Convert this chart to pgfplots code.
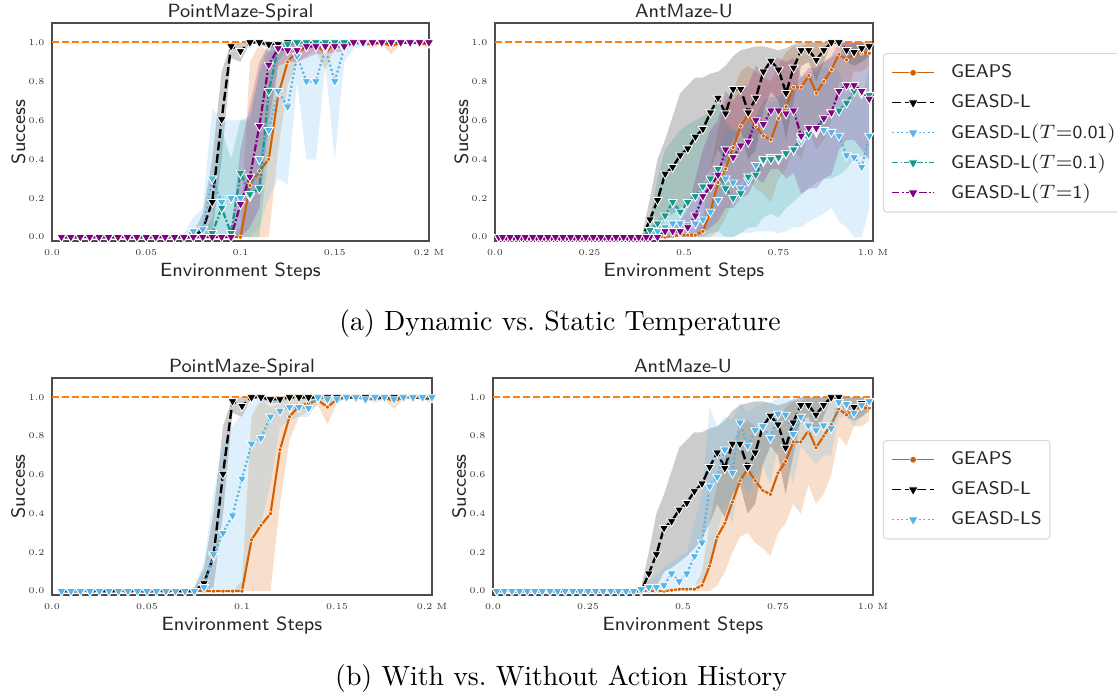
\documentclass[border=0pt]{standalone}
\usepackage{fontspec}
\usepackage{pgfplots}
\usepackage{pgfplotstable}
\pgfplotsset{compat=1.18}
\usepgfplotslibrary{fillbetween}

\definecolor{cGEAPS}{RGB}{213,94,0}
\definecolor{cHline}{RGB}{255,127,14}
\definecolor{cBlue}{RGB}{86,180,233}
\definecolor{cTeal}{RGB}{22,153,140}
\definecolor{cPurple}{RGB}{128,0,128}

% a = GEAPS, b = GEASD-L, c = T=0.01, d = T=0.1, e = T=1, s = GEASD-LS
\pgfplotstableread{
x a alo ahi b blo bhi c clo chi d dlo dhi e elo ehi s slo shi
0.005 0 0 0 0 0 0 0 0 0 0 0 0 0 0 0 0 0 0
0.01 0 0 0 0 0 0 0 0 0 0 0 0 0 0 0 0 0 0
0.015 0 0 0 0 0 0 0 0 0 0 0 0 0 0 0 0 0 0
0.02 0 0 0 0 0 0 0 0 0 0 0 0 0 0 0 0 0 0
0.025 0 0 0 0 0 0 0 0 0 0 0 0 0 0 0 0 0 0
0.03 0 0 0 0 0 0 0 0 0 0 0 0 0 0 0 0 0 0
0.035 0 0 0 0 0 0 0 0 0 0 0 0 0 0 0 0 0 0
0.04 0 0 0 0 0 0 0 0 0 0 0 0 0 0 0 0 0 0
0.045 0 0 0 0 0 0 0 0 0 0 0 0 0 0 0 0 0 0
0.05 0 0 0 0 0 0 0 0 0 0 0 0 0 0 0 0 0 0
0.055 0 0 0 0 0 0 0 0 0 0 0 0 0 0 0 0 0 0
0.06 0 0 0 0 0 0 0 0 0 0 0 0 0 0 0 0 0 0
0.065 0 0 0 0 0 0 0 0 0 0 0 0 0 0 0 0 0 0
0.07 0 0 0 0 0 0 0 0 0.02 0 0 0 0 0 0 0 0 0
0.075 0 0 0 0 0 0.02 0.03 0 0.10 0 0 0 0 0 0 0 0 0.02
0.08 0 0 0 0.04 0 0.12 0.04 0 0.15 0 0 0.02 0 0 0 0.02 0 0.15
0.085 0 0 0 0.18 0.02 0.40 0.30 0 0.66 0.02 0 0.10 0 0 0 0.19 0 0.50
0.09 0 0 0 0.605 0.40 0.85 0.18 0 0.60 0.15 0 0.55 0 0 0 0.30 0 0.75
0.095 0 0 0 0.98 0.92 1.0 0.20 0 0.60 0.02 0 0.40 0 0 0.02 0.39 0 0.85
0.1 0 0 0.05 0.955 0.90 1.0 0.20 0 0.60 0.33 0 0.60 0.17 0 0.45 0.58 0 0.92
0.105 0.265 0 0.90 1.0 1.0 1.0 0.21 0 0.60 0.22 0 0.62 0.31 0.05 0.68 0.76 0.30 0.98
0.11 0.34 0 0.99 1.0 0.99 1.0 0.40 0.05 0.85 0.25 0 0.85 0.57 0.15 0.90 0.79 0.35 1.0
0.115 0.40 0 0.95 0.99 0.97 1.0 0.55 0.20 0.95 0.75 0.45 1.0 0.885 0.60 0.99 0.90 0.55 1.0
0.12 0.73 0.45 0.97 0.99 0.97 1.0 0.75 0.30 1.0 0.97 0.90 1.0 0.97 0.88 1.0 0.93 0.85 1.0
0.125 0.90 0.78 1.0 1.0 1.0 1.0 0.67 0.27 1.0 0.99 0.97 1.0 0.96 0.90 1.0 0.95 0.88 1.0
0.13 0.955 0.90 1.0 1 1 1 0.93 0.80 1.0 1 1 1 0.96 0.90 1.0 0.95 0.90 1.0
0.135 0.97 0.93 1.0 1 1 1 0.80 0.40 1.0 1 1 1 0.98 0.92 1.0 0.945 0.90 1.0
0.14 0.985 0.96 1.0 1 1 1 0.80 0.40 1.0 1 1 1 0.98 0.94 1.0 1.0 0.98 1.0
0.145 0.95 0.86 1.0 1 1 1 0.97 0.88 1.0 1 1 1 0.98 0.94 1.0 0.99 0.97 1.0
0.15 0.99 0.97 1.0 1 1 1 0.80 0.40 1.0 1 1 1 0.98 0.95 1.0 0.99 0.97 1.0
0.155 1 1 1 1 1 1 0.97 0.90 1.0 1 1 1 0.98 0.95 1.0 1 1 1
0.16 1 1 1 1 1 1 1.0 0.97 1.0 1 1 1 1 1 1 1 1 1
0.165 0.995 0.99 1 1 1 1 0.99 0.98 1 1 1 1 1 1 1 0.99 0.98 1
0.17 0.99 0.97 1 1 1 1 1 1 1 1 1 1 1 1 1 1 1 1
0.175 1 0.99 1 1 1 1 1 1 1 1 1 1 1 1 1 1 1 1
0.18 0.98 0.94 1 1 1 1 1 1 1 1 1 1 1 1 1 0.99 0.98 1
0.185 1 0.99 1 1 1 1 1 1 1 1 1 1 1 1 1 1 1 1
0.19 1 1 1 1 1 1 1 1 1 1 1 1 1 1 1 1 1 1
0.195 0.995 0.99 1 1 1 1 1 1 1 1 1 1 1 1 1 1 1 1
0.2 0.99 0.97 1 1 1 1 1 1 1 1 1 1 1 1 1 1 1 1
}\tPM

\pgfplotstableread{
x a alo ahi b blo bhi c clo chi d dlo dhi e elo ehi s slo shi
0.01 0 0 0 0 0 0 0 0 0 0 0 0 0 0 0 0 0 0
0.03 0 0 0 0 0 0 0 0 0 0 0 0 0 0 0 0 0 0
0.05 0 0 0 0 0 0 0 0 0 0 0 0 0 0 0 0 0 0
0.07 0 0 0 0 0 0 0 0 0 0 0 0 0 0 0 0 0 0
0.09 0 0 0 0 0 0 0 0 0 0 0 0 0 0 0 0 0 0
0.11 0 0 0 0 0 0 0 0 0 0 0 0 0 0 0 0 0 0
0.13 0 0 0 0 0 0 0 0 0 0 0 0 0 0 0 0 0 0
0.15 0 0 0 0 0 0 0 0 0 0 0 0 0 0 0 0 0 0
0.17 0 0 0 0 0 0 0 0 0 0 0 0 0 0 0 0 0 0
0.19 0 0 0 0 0 0 0 0 0 0 0 0 0 0 0 0 0 0
0.21 0 0 0 0 0 0 0 0 0 0 0 0 0 0 0 0 0 0
0.23 0 0 0 0 0 0 0 0 0 0 0 0 0 0 0 0 0 0
0.25 0 0 0 0 0 0 0 0 0 0 0 0 0 0 0 0 0 0
0.27 0 0 0 0 0 0 0 0 0 0 0 0 0 0 0 0 0 0
0.29 0 0 0 0 0 0 0 0 0 0 0 0 0 0 0 0 0 0
0.31 0 0 0 0 0 0 0 0 0 0 0 0 0 0 0 0 0 0
0.33 0 0 0 0 0 0 0 0 0 0 0 0 0 0 0 0 0 0
0.35 0 0 0 0 0 0 0 0 0 0 0 0 0 0 0 0 0 0
0.37 0 0 0 0 0 0 0 0 0 0 0 0 0 0 0 0 0 0
0.39 0 0 0 0 0 0.02 0 0 0 0 0 0 0 0 0 0.01 0 0.02
0.41 0 0 0 0.09 0 0.20 0 0 0.03 0.036 0 0.10 0 0 0 0.02 0 0.05
0.43 0 0 0 0.19 0.02 0.40 0.03 0 0.05 0.07 0 0.30 0 0 0 0.02 0 0.08
0.45 0 0 0 0.325 0.10 0.50 0.05 0 0.10 0.11 0 0.45 0.03 0 0.04 0.03 0 0.12
0.47 0.005 0 0.01 0.36 0.12 0.62 0.07 0 0.15 0.18 0 0.50 0.03 0 0.05 0.09 0 0.15
0.49 0.01 0 0.01 0.42 0.15 0.74 0.07 0 0.15 0.13 0 0.55 0.03 0 0.08 0.05 0 0.18
0.51 0.01 0 0.02 0.455 0.18 0.78 0.06 0 0.15 0.18 0 0.58 0.05 0 0.15 0.09 0.01 0.20
0.53 0.01 0 0.02 0.515 0.22 0.82 0.07 0 0.20 0.21 0 0.60 0.11 0 0.30 0.18 0.03 0.35
0.55 0.03 0 0.10 0.555 0.27 0.82 0.09 0 0.25 0.26 0 0.62 0.21 0.02 0.45 0.25 0.05 0.50
0.57 0.13 0 0.35 0.64 0.35 0.84 0.13 0 0.35 0.30 0.02 0.65 0.26 0.05 0.55 0.54 0.15 0.95
0.59 0.28 0.03 0.55 0.715 0.45 0.85 0.19 0 0.45 0.35 0.03 0.70 0.32 0.08 0.60 0.59 0.30 0.85
0.61 0.35 0.10 0.70 0.635 0.38 0.88 0.30 0 0.55 0.25 0 0.60 0.45 0.15 0.75 0.73 0.45 0.90
0.63 0.46 0.20 0.75 0.76 0.50 0.93 0.28 0 0.55 0.20 0 0.55 0.41 0.15 0.70 0.61 0.35 0.88
0.65 0.57 0.28 0.85 0.76 0.55 0.96 0.25 0.02 0.50 0.225 0.02 0.55 0.47 0.20 0.75 0.87 0.60 0.97
0.67 0.63 0.30 0.88 0.64 0.40 0.97 0.29 0.02 0.55 0.31 0.05 0.60 0.49 0.22 0.78 0.75 0.50 0.92
0.69 0.57 0.25 0.85 0.715 0.45 0.98 0.37 0.03 0.62 0.32 0.05 0.62 0.60 0.30 0.88 0.83 0.60 0.95
0.71 0.52 0.22 0.82 0.85 0.65 0.98 0.39 0.03 0.65 0.40 0.10 0.70 0.58 0.28 0.85 0.85 0.65 0.97
0.73 0.50 0.18 0.80 0.905 0.75 0.97 0.41 0.03 0.70 0.40 0.12 0.72 0.65 0.35 0.92 0.79 0.55 0.97
0.75 0.61 0.30 0.88 0.86 0.70 0.96 0.40 0.02 0.70 0.41 0.10 0.72 0.65 0.35 0.92 0.915 0.75 1.0
0.77 0.67 0.35 0.95 0.74 0.50 0.97 0.43 0.03 0.72 0.43 0.15 0.75 0.635 0.30 0.90 0.91 0.70 1.0
0.79 0.77 0.45 0.98 0.87 0.70 0.99 0.45 0.05 0.75 0.45 0.18 0.78 0.65 0.33 0.92 0.81 0.55 0.98
0.81 0.77 0.40 0.98 0.96 0.88 1.0 0.49 0.05 0.78 0.51 0.22 0.82 0.52 0.22 0.82 0.90 0.75 1.0
0.83 0.83 0.55 1.0 0.96 0.90 1.0 0.53 0.08 0.82 0.53 0.25 0.85 0.56 0.25 0.87 0.855 0.70 1.0
0.85 0.74 0.45 1.0 0.91 0.80 1.0 0.54 0.10 0.85 0.55 0.28 0.85 0.56 0.25 0.87 0.83 0.65 1.0
0.87 0.80 0.50 1.0 0.96 0.90 1.0 0.55 0.12 0.87 0.61 0.30 0.90 0.61 0.30 0.90 0.855 0.70 1.0
0.89 0.86 0.60 1.0 1.0 1.0 1.0 0.54 0.15 0.87 0.64 0.30 0.92 0.64 0.32 0.93 0.84 0.70 1.0
0.91 0.94 0.80 1.0 1.0 1.0 1.0 0.52 0.08 0.85 0.65 0.32 0.95 0.75 0.45 1.0 0.975 0.90 1.0
0.93 0.91 0.75 1.0 0.96 0.90 1.0 0.42 0.05 0.75 0.69 0.35 0.97 0.78 0.50 1.0 0.965 0.90 1.0
0.95 0.94 0.85 1.0 0.95 0.88 1.0 0.41 0 0.75 0.75 0.40 1.0 0.78 0.50 1.0 0.92 0.85 1.0
0.97 0.945 0.85 1.0 0.97 0.90 1.0 0.36 0 0.70 0.74 0.42 1.0 0.75 0.45 1.0 0.96 0.90 1.0
0.99 0.945 0.88 1.0 0.98 0.93 1.0 0.52 0.15 0.88 0.73 0.40 1.0 0.71 0.40 0.98 0.98 0.95 1.0
}\tAM

% #1 table, #2 series column, #3 colour, #4 axis id (keeps path names unique)
\newcommand\band[4]{%
  \addplot[draw=none, forget plot, name path=#4#2hi] table[x=x, y=#2hi]{#1};
  \addplot[draw=none, forget plot, name path=#4#2lo] table[x=x, y=#2lo]{#1};
  \addplot[draw=none, fill=#3, fill opacity=0.2, forget plot] fill between[of=#4#2hi and #4#2lo];
}

\pgfplotsset{
  panel/.style={
    scale only axis, anchor=south west,
    ymin=-0.02, ymax=1.1,
    ytick={0,0.2,0.4,0.6,0.8,1}, yticklabels={0.0,0.2,0.4,0.6,0.8,1.0},
    major tick length=0pt,
    axis line style={draw=black!70, line width=0.45pt},
    tick label style={font=\rmfamily\fontsize{3.2}{3.8}\selectfont, text=black!80},
    xticklabel shift=-0.4pt, yticklabel shift=-0.8pt,
    title style={font=\sffamily\fontsize{6.9}{8}\selectfont, text=black!85,
      at={(axis description cs:0.5,1)}, anchor=base, yshift=-3.9pt},
    label style={font=\sffamily\fontsize{6.9}{8}\selectfont, text=black!85},
    xlabel={Environment Steps}, ylabel={Success},
    xlabel style={at={(axis description cs:0.5,0)}, anchor=base, yshift=-12.6pt},
    ylabel style={at={(axis description cs:-0.0712,0.5)}, anchor=base},
    legend image code/.code={\draw[mark repeat=2,mark phase=2,##1] plot coordinates {(0pt,0pt) (7.5pt,0pt) (15pt,0pt)};},
    legend cell align=left,
    legend style={draw=black!15, fill=white, rounded corners=1.2pt,
      font=\sffamily\fontsize{6.6}{8}\selectfont, text=black!85,
      anchor=north west, inner xsep=3pt, inner ysep=1.5pt, row sep=0pt,
      nodes={inner sep=0pt, minimum height=10.8pt},
      /tikz/every odd column/.append style={column sep=6pt}},
  },
  pm/.style={panel, xmin=0, xmax=0.2, xtick={0,0.05,0.1,0.15,0.2},
    xticklabels={0.0,0.05,0.1,0.15,0.2 M}, title={PointMaze-Spiral}},
  am/.style={panel, xmin=0, xmax=1, xtick={0,0.25,0.5,0.75,1},
    xticklabels={0.0,0.25,0.5,0.75,1.0 M}, title={AntMaze-U}},
  tri/.style={mark=triangle*, mark size=1.9pt,
    mark options={solid, rotate=180, fill=#1, draw=white, line width=0.3pt}},
  geaps/.style={color=cGEAPS, line width=0.75pt, mark=*, mark size=0.75pt,
    mark options={solid, fill=cGEAPS, draw=white, line width=0.2pt}},
  gl/.style={color=black, line width=0.85pt, dash pattern=on 3.2pt off 1.3pt, tri=black},
  t001/.style={color=cBlue, line width=0.8pt, dash pattern=on 0.7pt off 0.9pt, tri=cBlue},
  t01/.style={color=cTeal, line width=0.8pt, dash pattern=on 2.2pt off 0.8pt on 0.6pt off 0.8pt, tri=cTeal},
  t1/.style={color=cPurple, line width=0.8pt, dash pattern=on 2.6pt off 0.8pt on 0.7pt off 0.8pt, tri=cPurple},
  hline/.style={draw=cHline, line width=0.7pt, dash pattern=on 2.4pt off 1.2pt, forget plot},
  leg/.style={line width=0.4pt, mark size=2.1pt},
}

\begin{document}
\begin{tikzpicture}

% (a) top left
\begin{axis}[pm, at={(18.72pt,163.08pt)}, width=135.72pt, height=78.48pt]
  \band{\tPM}{a}{cGEAPS}{P}
  \band{\tPM}{b}{black}{P}
  \band{\tPM}{c}{cBlue}{P}
  \band{\tPM}{d}{cTeal}{P}
  \band{\tPM}{e}{cPurple}{P}
  \addplot[hline] coordinates {(0,1) (0.2,1)};
  \addplot[geaps] table[x=x, y=a]{\tPM};
  \addplot[gl] table[x=x, y=b]{\tPM};
  \addplot[t001] table[x=x, y=c]{\tPM};
  \addplot[t01] table[x=x, y=d]{\tPM};
  \addplot[t1] table[x=x, y=e]{\tPM};
\end{axis}

% (a) top right
\begin{axis}[am, at={(178.2pt,163.08pt)}, width=136.08pt, height=78.48pt,
  legend style={at={(axis description cs:1.026,0.862)}}]
  \band{\tAM}{a}{cGEAPS}{Q}
  \band{\tAM}{b}{black}{Q}
  \band{\tAM}{c}{cBlue}{Q}
  \band{\tAM}{d}{cTeal}{Q}
  \band{\tAM}{e}{cPurple}{Q}
  \addplot[hline] coordinates {(0,1) (1,1)};
  \addplot[geaps, forget plot] table[x=x, y=a]{\tAM};
  \addplot[gl, forget plot] table[x=x, y=b]{\tAM};
  \addplot[t001, forget plot] table[x=x, y=c]{\tAM};
  \addplot[t01, forget plot] table[x=x, y=d]{\tAM};
  \addplot[t1, forget plot] table[x=x, y=e]{\tAM};
  \addplot[t1, only marks, forget plot] coordinates {
    (0.02,0) (0.04,0) (0.06,0) (0.08,0) (0.10,0) (0.12,0) (0.14,0) (0.16,0) (0.18,0) (0.20,0)
    (0.22,0) (0.24,0) (0.26,0) (0.28,0) (0.30,0) (0.32,0) (0.34,0) (0.36,0) (0.38,0) (0.40,0)};
  \addlegendimage{geaps, line width=0.4pt, mark size=1.2pt}
  \addlegendentry{GEAPS}
  \addlegendimage{gl, leg}
  \addlegendentry{GEASD-L}
  \addlegendimage{t001, leg}
  \addlegendentry{GEASD-L$(T{=}$0.01$)$}
  \addlegendimage{t01, leg}
  \addlegendentry{GEASD-L$(T{=}$0.1$)$}
  \addlegendimage{t1, leg}
  \addlegendentry{GEASD-L$(T{=}$1$)$}
\end{axis}

% (b) bottom left
\begin{axis}[pm, at={(18.72pt,35.64pt)}, width=136.8pt, height=78.12pt]
  \band{\tPM}{a}{cGEAPS}{R}
  \band{\tPM}{b}{black}{R}
  \band{\tPM}{s}{cBlue}{R}
  \addplot[hline] coordinates {(0,1) (0.2,1)};
  \addplot[geaps] table[x=x, y=a]{\tPM};
  \addplot[gl] table[x=x, y=b]{\tPM};
  \addplot[t001] table[x=x, y=s]{\tPM};
\end{axis}

% (b) bottom right
\begin{axis}[am, at={(177.48pt,35.64pt)}, width=136.8pt, height=78.12pt,
  legend style={at={(axis description cs:1.026,0.714)}}]
  \band{\tAM}{a}{cGEAPS}{S}
  \band{\tAM}{b}{black}{S}
  \band{\tAM}{s}{cBlue}{S}
  \addplot[hline] coordinates {(0,1) (1,1)};
  \addplot[geaps, forget plot] table[x=x, y=a]{\tAM};
  \addplot[gl, forget plot] table[x=x, y=b]{\tAM};
  \addplot[t001, forget plot] table[x=x, y=s]{\tAM};
  \addlegendimage{geaps, line width=0.4pt, mark size=1.2pt}
  \addlegendentry{GEAPS}
  \addlegendimage{gl, leg}
  \addlegendentry{GEASD-L}
  \addlegendimage{t001, leg}
  \addlegendentry{GEASD-LS}
\end{axis}

\node[anchor=base, font=\rmfamily\fontsize{10}{12}\selectfont] at (201.6pt,130.7pt) {(a) Dynamic vs.\ Static Temperature};
\node[anchor=base, font=\rmfamily\fontsize{10}{12}\selectfont] at (202pt,2.9pt) {(b) With vs.\ Without Action History};
\pgfresetboundingbox
\useasboundingbox (0,0) rectangle (402.12pt,249.84pt);
\end{tikzpicture}
\end{document}
